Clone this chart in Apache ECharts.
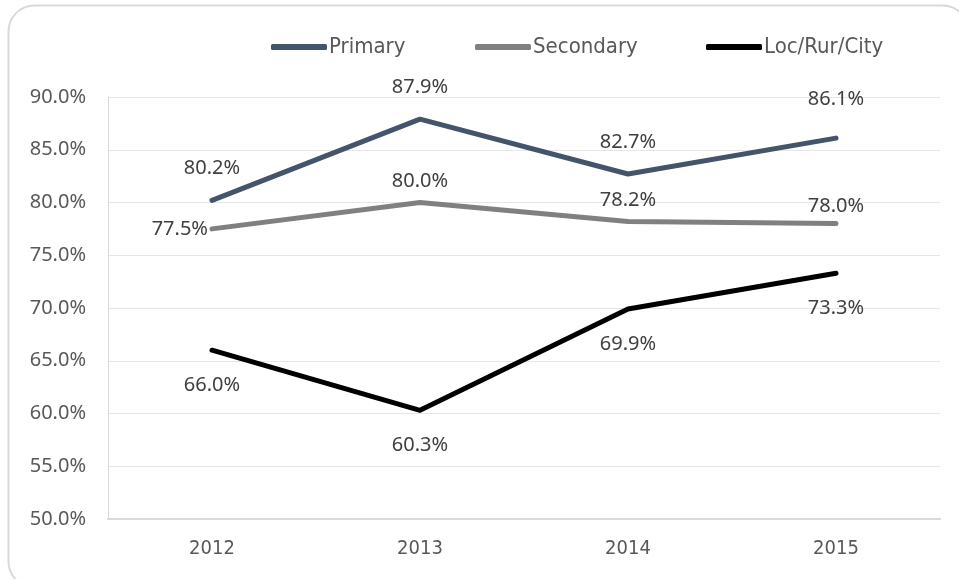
<!DOCTYPE html>
<html>
<head>
<meta charset="utf-8">
<script src="https://cdn.jsdelivr.net/npm/echarts@6/dist/echarts.min.js"></script>
<style>
  html, body { margin: 0; padding: 0; background: #ffffff; }
  #chart { width: 959px; height: 579px; }
</style>
</head>
<body>
<div id="chart"></div>
<script>
// Years on the x axis
const years = ['2012', '2013', '2014', '2015'];
// Percentages per series
const primary = [80.2, 87.9, 82.7, 86.1];
const secondary = [77.5, 80.0, 78.2, 78.0];
const locRurCity = [66.0, 60.3, 69.9, 73.3];
// Y axis range
const yMin = 50, yMax = 90, yStep = 5;

const labelFont = '"Noto Sans", "DejaVu Sans", sans-serif';
const narrowFont = '"DejaVu Sans Condensed", "Liberation Sans Narrow", "Liberation Sans", sans-serif';

function lineSeries(name, values, color, labelPos, distance, overrides) {
  return {
    name: name,
    type: 'line',
    data: values.map((v, i) => {
      const item = { value: v };
      if (overrides && overrides[i]) item.label = overrides[i];
      return item;
    }),
    symbol: 'circle',
    symbolSize: 0.1,
    showSymbol: true,
    lineStyle: { color: color, width: 5, cap: 'round', join: 'round' },
    itemStyle: { color: color },
    label: {
      show: true,
      position: labelPos,
      distance: distance,
      formatter: p => p.value.toFixed(1) + '%',
      color: '#404040',
      fontSize: 20,
      fontFamily: labelFont
    },
    emphasis: { disabled: true },
    animation: false
  };
}

function legendAt(name, left) {
  return {
    data: [{ name: name, icon: 'roundRect' }],
    left: left,
    top: 31,
    itemWidth: 56,
    itemHeight: 6,
    itemGap: 0,
    textStyle: { color: '#595959', fontSize: 22, fontFamily: narrowFont, padding: [0, 0, 0, -3] },
    selectedMode: false
  };
}

const chart = echarts.init(document.getElementById('chart'), null, { renderer: 'canvas' });
chart.setOption({
  backgroundColor: '#ffffff',
  animation: false,
  graphic: [{
    type: 'rect',
    shape: { x: 8.5, y: 5.5, width: 960, height: 582, r: 26 },
    style: { fill: 'none', stroke: '#d9d9d9', lineWidth: 2 },
    silent: true,
    z: -10
  }],
  legend: [
    legendAt('Primary', 266),
    legendAt('Secondary', 470),
    legendAt('Loc/Rur/City', 701)
  ],
  grid: { left: 108, right: 19, top: 97, bottom: 60 },
  xAxis: {
    type: 'category',
    data: years,
    boundaryGap: true,
    axisLine: { lineStyle: { color: '#d9d9d9', width: 2 } },
    axisTick: { show: false },
    axisLabel: { color: '#595959', fontSize: 20, fontFamily: narrowFont, margin: 20 }
  },
  yAxis: {
    type: 'value',
    min: yMin,
    max: yMax,
    interval: yStep,
    axisLine: { show: true, lineStyle: { color: '#d9d9d9', width: 1 } },
    axisTick: { show: false },
    splitLine: { lineStyle: { color: '#e6e6e6', width: 1 } },
    axisLabel: {
      color: '#595959',
      fontSize: 20,
      fontFamily: labelFont,
      margin: 22,
      formatter: v => v.toFixed(1) + '%'
    }
  },
  series: [
    lineSeries('Primary', primary, '#44546a', 'top', 22, [null, null, null, { distance: 29 }]),
    lineSeries('Secondary', secondary, '#808080', 'top', 11, [{ position: 'left', distance: 4 }, null, null, { distance: 7 }]),
    lineSeries('Loc/Rur/City', locRurCity, '#000000', 'bottom', 25, null)
  ]
});
</script>
</body>
</html>
